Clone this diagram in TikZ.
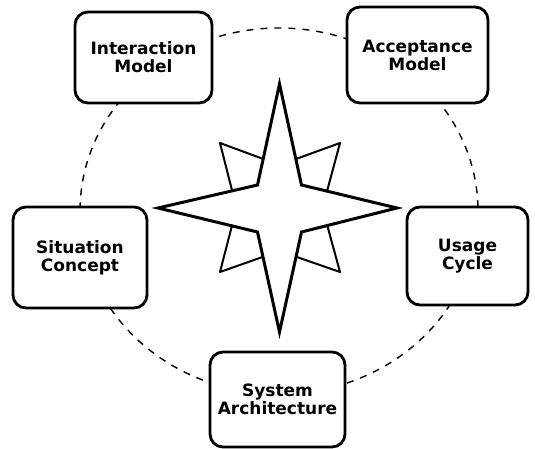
\documentclass[tikz,border=0pt]{standalone}
\usepackage{fontspec}
\setmainfont{DejaVu Sans}
\begin{document}
\begin{tikzpicture}[x=1pt,y=-1pt,
  box/.style={draw=black,line width=2.8pt,rounded corners=13pt,fill=white,
    align=center,inner sep=0pt,font=\bfseries\fontsize{17}{18}\selectfont},
  orbit/.style={draw=black,line width=1.4pt,dash pattern=on 7pt off 7pt},
  ray/.style={draw=black,line width=2pt,fill=white,line join=round},
  mainstar/.style={draw=black,line width=3pt,fill=white,line join=miter}]
\useasboundingbox (0,0) rectangle (535,449);
% dashed orbit
\draw[orbit] (279,211) ellipse [x radius=199, y radius=183];
% secondary (diagonal) star
\coordinate (c) at (279.5,208);
\draw[ray] (220,143) -- (279.5,165) -- (340,143) -- (322.5,208) -- (340,272)
  -- (279.5,251) -- (220,272) -- (236.5,208) -- cycle;
% main star
\draw[mainstar] (279.5,84) -- (301.5,185) -- (397,208) -- (301.5,232) -- (279.5,332)
  -- (257.5,232) -- (158,208) -- (257.5,185) -- cycle;
% boxes
\node[box,minimum width=137pt,minimum height=91pt] (inter) at (143.5,57.5) {Interaction\\Model};
\node[box,minimum width=141pt,minimum height=96pt] (accept) at (417.5,55) {Acceptance\\Model};
\node[box,minimum width=134pt,minimum height=101pt] (situ) at (80,257.5) {Situation\\Concept};
\node[box,minimum width=121pt,minimum height=98pt] (usage) at (467.5,256) {Usage\\Cycle};
\node[box,minimum width=135pt,minimum height=95pt] (sys) at (277.5,399.5) {System\\Architecture};
\end{tikzpicture}
\end{document}
